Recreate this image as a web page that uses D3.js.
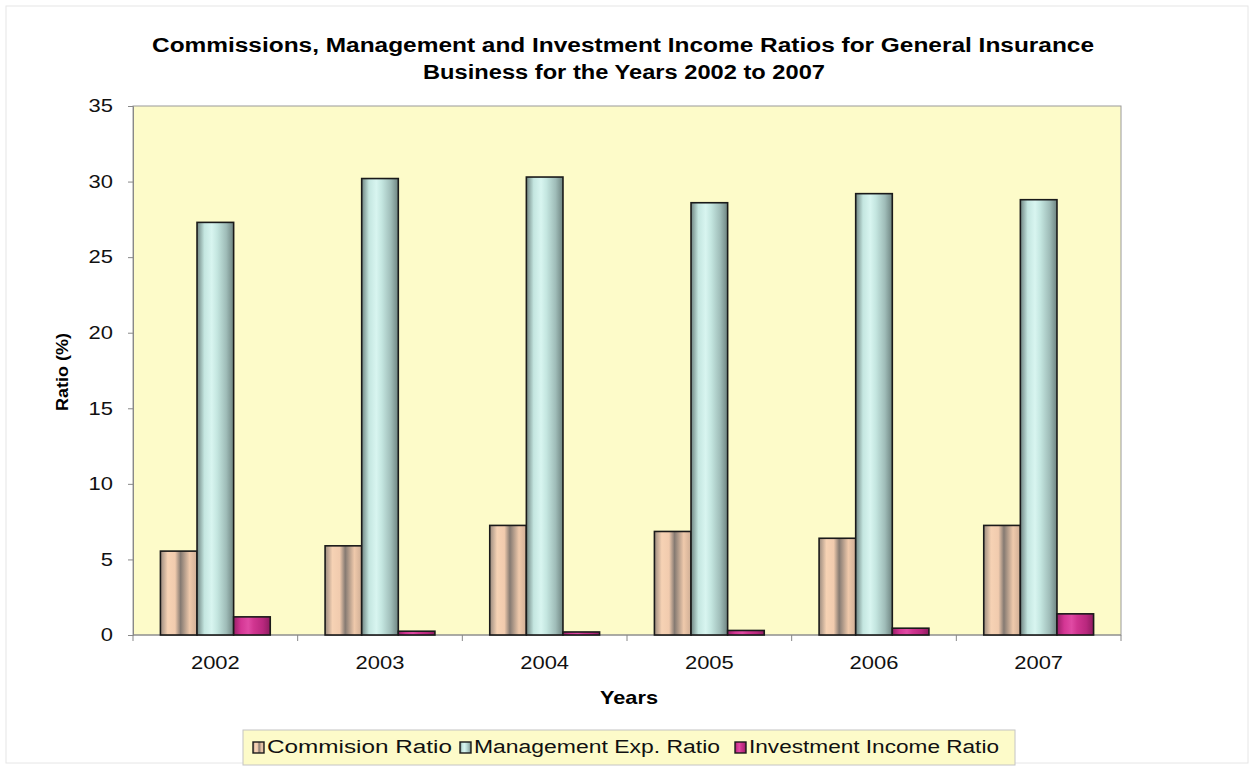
<!DOCTYPE html>
<html>
<head>
<meta charset="utf-8">
<script src="https://cdn.jsdelivr.net/npm/d3@7"></script>
<style>
  body { margin: 0; background: #fff; }
  text { font-family: "Liberation Sans", Arial, sans-serif; }
</style>
</head>
<body>
<svg id="chart" width="1254" height="769"></svg>
<script>
var years = ["2002", "2003", "2004", "2005", "2006", "2007"];
var seriesNames = ["Commision Ratio", "Management Exp. Ratio", "Investment Income Ratio"];
var commission = [5.55, 5.9, 7.25, 6.85, 6.4, 7.25];
var management = [27.3, 30.2, 30.3, 28.6, 29.2, 28.8];
var investment = [1.2, 0.25, 0.2, 0.3, 0.45, 1.4];
var yTicks = [0, 5, 10, 15, 20, 25, 30, 35];

var svg = d3.select("#chart"),
    margin = { top: 106, right: 133, bottom: 134, left: 133 },
    width = +svg.attr("width") - margin.left - margin.right,
    height = +svg.attr("height") - margin.top - margin.bottom;

var sx = 1.22; // the original text is drawn wide

// outer frame
svg.append("rect")
    .attr("x", 6).attr("y", 6)
    .attr("width", 1242).attr("height", 757)
    .attr("fill", "none")
    .attr("stroke", "#e6e6e6");

var defs = svg.append("defs");
var grads = [
    { id: "gCom", stops: ["#9a8a7e", "#f6d2b4", "#f1cbae", "#857a72", "#efc9ab", "#cfae95"] },
    { id: "gMan", stops: ["#6f8582", "#c4e6e0", "#d8f5f0", "#c4e6e0", "#9fbcb8", "#6e8481"] },
    { id: "gInv", stops: ["#9a1f68", "#d43694", "#e04aa4", "#d03590", "#b9287e", "#8e1c60"] }
];
var offs = [0, 0.2, 0.4, 0.55, 0.8, 1];
grads.forEach(function (gd) {
    var lg = defs.append("linearGradient").attr("id", gd.id)
        .attr("x1", "0").attr("x2", "1").attr("y1", "0").attr("y2", "0");
    gd.stops.forEach(function (c, i) {
        lg.append("stop").attr("offset", offs[i]).attr("stop-color", c);
    });
});

var g = svg.append("g").attr("transform", "translate(" + margin.left + "," + margin.top + ")");

var x0 = d3.scaleBand().domain(years).range([0, width]).paddingInner(0.333).paddingOuter(0.1665);
var x1 = d3.scaleBand().domain(d3.range(3)).range([0, x0.bandwidth()]);
var y = d3.scaleLinear().domain([0, 35]).range([height, 0]);
var fills = ["url(#gCom)", "url(#gMan)", "url(#gInv)"];
var values = [commission, management, investment];

// plot background
g.append("rect")
    .attr("width", width).attr("height", height)
    .attr("fill", "#fdfbc9")
    .attr("stroke", "#9a9a9a");

// y axis
g.append("g")
    .call(d3.axisLeft(y).tickValues(yTicks).tickSize(5).tickPadding(0))
    .call(function (a) { a.select(".domain").attr("stroke", "#888"); })
    .call(function (a) { a.selectAll(".tick line").attr("stroke", "#888"); })
    .call(function (a) {
        a.selectAll(".tick text")
            .attr("font-size", 18).attr("fill", "#111")
            .attr("x", -20 / sx)
            .attr("transform", "scale(" + sx + ",1)");
    });

// x axis with ticks between categories
var xa = g.append("g").attr("transform", "translate(0," + height + ")");
xa.append("line").attr("x1", 0).attr("x2", width).attr("stroke", "#888");
xa.selectAll(".sep")
    .data(d3.range(years.length + 1))
    .enter().append("line")
    .attr("x1", function (i) { return i * x0.step(); })
    .attr("x2", function (i) { return i * x0.step(); })
    .attr("y1", 0).attr("y2", 6)
    .attr("stroke", "#888");
xa.selectAll(".lbl")
    .data(years)
    .enter().append("text")
    .attr("transform", function (d) { return "translate(" + (x0(d) + x0.bandwidth() / 2) + ",34) scale(" + sx + ",1)"; })
    .attr("text-anchor", "middle")
    .attr("font-size", 18)
    .attr("fill", "#111")
    .text(function (d) { return d; });

// bars
var cat = g.append("g").selectAll("g")
    .data(years)
    .enter().append("g")
    .attr("transform", function (d) { return "translate(" + x0(d) + ",0)"; });

cat.selectAll("rect")
    .data(function (d, i) { return values.map(function (v, s) { return { s: s, v: v[i] }; }); })
    .enter().append("rect")
    .attr("x", function (d) { return x1(d.s); })
    .attr("y", function (d) { return y(d.v); })
    .attr("width", x1.bandwidth())
    .attr("height", function (d) { return height - y(d.v); })
    .attr("fill", function (d) { return fills[d.s]; })
    .attr("stroke", "#1a1a1a")
    .attr("stroke-width", 1.6);

// titles
svg.append("text")
    .attr("x", 623).attr("y", 52)
    .attr("text-anchor", "middle")
    .attr("font-size", 19.5).attr("font-weight", "bold")
    .attr("textLength", 942).attr("lengthAdjust", "spacingAndGlyphs")
    .text("Commissions, Management and Investment Income Ratios for General Insurance");
svg.append("text")
    .attr("x", 624).attr("y", 79)
    .attr("text-anchor", "middle")
    .attr("font-size", 19.5).attr("font-weight", "bold")
    .attr("textLength", 402).attr("lengthAdjust", "spacingAndGlyphs")
    .text("Business for the Years 2002 to 2007");

svg.append("text")
    .attr("x", 629).attr("y", 704)
    .attr("text-anchor", "middle")
    .attr("font-size", 18.5).attr("font-weight", "bold")
    .attr("textLength", 58).attr("lengthAdjust", "spacingAndGlyphs")
    .text("Years");

svg.append("text")
    .attr("transform", "translate(68,372) rotate(-90)")
    .attr("text-anchor", "middle")
    .attr("font-size", 17).attr("font-weight", "bold")
    .attr("textLength", 78).attr("lengthAdjust", "spacingAndGlyphs")
    .text("Ratio (%)");

// legend
var lg = svg.append("g").attr("transform", "translate(243,730)");
lg.append("rect")
    .attr("width", 772).attr("height", 35)
    .attr("fill", "#fdfbc9")
    .attr("stroke", "#c4c4c4");
var legX = [10, 217, 492];
var legW = [185, 246, 250];
var item = lg.selectAll(".item")
    .data(seriesNames)
    .enter().append("g")
    .attr("transform", function (d, i) { return "translate(" + legX[i] + ",0)"; });
item.append("rect")
    .attr("x", 0).attr("y", 12)
    .attr("width", 11).attr("height", 11)
    .attr("fill", function (d, i) { return fills[i]; })
    .attr("stroke", "#1a1a1a").attr("stroke-width", 1.4);
item.append("text")
    .attr("x", 14).attr("y", 23)
    .attr("font-size", 18)
    .attr("fill", "#111")
    .attr("textLength", function (d, i) { return legW[i]; })
    .attr("lengthAdjust", "spacingAndGlyphs")
    .text(function (d) { return d; });
</script>
</body>
</html>
